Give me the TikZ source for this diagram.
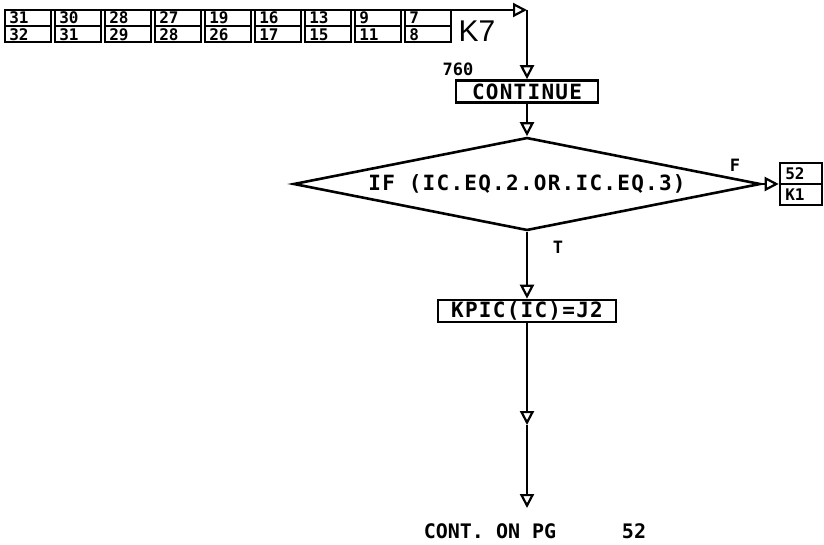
\documentclass[tikz,border=0pt]{standalone}
\usepackage{fontspec}
\setmainfont{DejaVu Sans}
\newfontfamily\fmono[LetterSpace=6]{DejaVu Sans Mono}
\newfontfamily\fplain{DejaVu Sans Mono}
\newfontfamily\fk{Liberation Sans}
\usetikzlibrary{arrows.meta,shapes.geometric}
\begin{document}
\begin{tikzpicture}[x=1pt,y=-1pt,line width=2.6pt,
  tri/.style={-{Triangle[open,length=14pt,width=14pt,line width=2.2pt]}},
  cell/.style={draw,line width=2.6pt,minimum width=46pt,minimum height=32pt,inner sep=0pt,outer sep=0pt},
  digit/.style={inner sep=0pt,anchor=west,font=\fplain\bfseries\fontsize{16}{16}\selectfont},
  box/.style={draw,inner sep=0pt,minimum height=22pt,font=\fmono\bfseries\fontsize{21}{21}\selectfont},
  lbl/.style={inner sep=0pt,font=\fplain\bfseries\fontsize{17}{17}\selectfont},
  big/.style={inner sep=0pt,font=\fplain\bfseries\fontsize{20}{20}\selectfont}
]
\useasboundingbox (0,0) rectangle (824,544);
% connector grid
\foreach \t/\b [count=\i from 0] in {31/32,30/31,28/29,27/28,19/26,16/17,13/15,9/11,7/8}{
  \node[cell] (c\i) at (28+50*\i,26) {};
  \draw[line width=2pt] (c\i.west) -- (c\i.east);
  \node[digit] (t\i) at (8+50*\i,18) {\t};
  \node[digit] (b\i) at (8+50*\i,34.5) {\b};
}
\draw (c0.north west) -- (c8.north east);
\node[inner sep=0pt,font=\fk\fontsize{30}{30}\selectfont] (k7) at (477,31) {K7};
\coordinate (corner) at (527,10);
\draw[tri] (c8.north east) -- (corner);
% continue
\node[box,minimum width=142pt] (cont) at (527,91.5) {CONTINUE};
\node[lbl] (l760) at (458,69) {760};
\draw[tri] (corner) -- (cont.north);
% decision
\node[diamond,draw,aspect=5,inner sep=0pt,minimum width=467pt,minimum height=93pt,
      font=\fmono\bfseries\fontsize{21}{21}\selectfont] (dia) at (527,184) {IF (IC.EQ.2.OR.IC.EQ.3)};
\draw[tri] (cont.south) -- (dia.north);
% off-page connector
\node[draw,minimum width=42pt,minimum height=42pt,inner sep=0pt] (off) at (801,184) {};
\draw[line width=2pt] (off.west) -- (off.east);
\node[digit] (o1) at (784,174) {52};
\node[digit] (o2) at (784,195) {K1};
\node[lbl] (lf) at (735,165) {F};
\draw[tri] (dia.east) -- (off.west);
% assignment
\node[lbl] (lt) at (558,247) {T};
\node[box,minimum width=178pt] (kpic) at (527,311) {KPIC(IC)=J2};
\draw[tri] (dia.south) -- (kpic.north);
\coordinate (mid) at (527,425);
\coordinate (endp) at (527,508);
\draw[tri] (kpic.south) -- (mid);
\draw[tri] (mid) -- (endp);
\node[big] (cont2) at (490,531) {CONT. ON PG};
\node[big] (pg) at (634,531) {52};
\end{tikzpicture}
\end{document}
